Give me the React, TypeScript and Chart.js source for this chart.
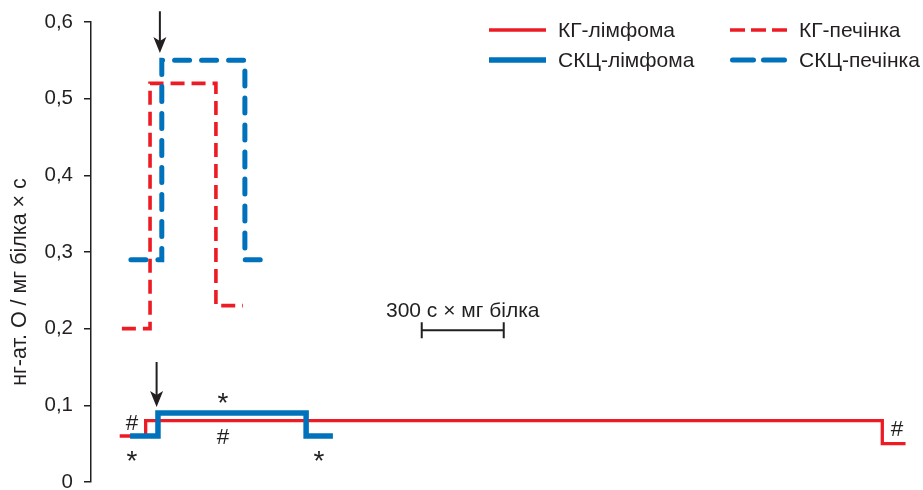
import React, { useEffect, useRef } from 'react';
import { Chart, registerables } from 'chart.js';

Chart.register(...registerables);

// ---- data (time in seconds, values in нг-ат. О / мг білка × с) ----
const seriesNames = ['КГ-лімфома', 'КГ-печінка', 'СКЦ-лімфома', 'СКЦ-печінка'];
const kgLymphomaTime = [105, 200, 2895, 2980];
const kgLymphomaValues = [0.06, 0.08, 0.05, 0.05];
const kgLiverTime = [113, 216, 457, 556];
const kgLiverValues = [0.2, 0.52, 0.23, 0.23];
const skcLymphomaTime = [143, 245, 787, 885];
const skcLymphomaValues = [0.06, 0.09, 0.06, 0.06];
const skcLiverTime = [146, 259, 563, 622];
const skcLiverValues = [0.29, 0.55, 0.29, 0.29];

const yTickValues = [0, 0.1, 0.2, 0.3, 0.4, 0.5, 0.6];
const yTitle = 'нг-ат. О / мг білка × с';

// significance marks (time, value)
const markTexts = ['#', '*', '*', '#', '*', '#'];
const markTimes = [150, 150, 483, 483, 834, 2949];
const markValues = [0.078, 0.034, 0.110, 0.059, 0.034, 0.07];

// arrows (time, from value, to value)
const arrowTimes = [252, 240];
const arrowFrom = [0.614, 0.1565];
const arrowTo = [0.5595, 0.0978];

// scale bar
const scaleBarStart = 1210;
const scaleBarLength = 300;
const scaleBarValue = 0.198;
const scaleBarLabel = '300 с × мг білка';

const RED = '#ED1C24';
const BLUE = '#0072BC';
const INK = '#231F20';
const FONT = '"Liberation Sans", Arial, Helvetica, sans-serif';

const toPoints = (t: number[], v: number[]) => t.map((x, i) => ({ x, y: v[i] }));

const styles = [
  { color: RED, dash: [] as number[], width: 3.3, cap: 'butt' },
  { color: RED, dash: [14, 7], width: 3.6, cap: 'butt' },
  { color: BLUE, dash: [] as number[], width: 5.5, cap: 'butt' },
  { color: BLUE, dash: [15, 12], width: 5, cap: 'round' },
];

const legendDash = [[], [15, 6], [], [21, 10]];
const legendCols = [489, 730];
const legendRows = [30, 60];

const extrasPlugin = {
  id: 'extras',
  afterDraw(chart: any) {
    const ctx: CanvasRenderingContext2D = chart.ctx;
    const xs = chart.scales.x;
    const ys = chart.scales.y;
    ctx.save();
    ctx.fillStyle = INK;
    ctx.strokeStyle = INK;

    // marks
    markTexts.forEach((t, i) => {
      const size = t === '*' ? 28 : 22.5;
      ctx.font = `${size}px ${FONT}`;
      ctx.textAlign = 'center';
      ctx.textBaseline = 'alphabetic';
      const m = ctx.measureText(t);
      const px = xs.getPixelForValue(markTimes[i]);
      const py = ys.getPixelForValue(markValues[i]);
      const off = (m.actualBoundingBoxAscent - m.actualBoundingBoxDescent) / 2;
      ctx.fillText(t, px, py + off);
    });

    // arrows
    arrowTimes.forEach((t, i) => {
      const x = xs.getPixelForValue(t);
      const y0 = ys.getPixelForValue(arrowFrom[i]);
      const y1 = ys.getPixelForValue(arrowTo[i]);
      ctx.lineWidth = 2;
      ctx.setLineDash([]);
      ctx.beginPath();
      ctx.moveTo(x, y0);
      ctx.lineTo(x, y1 - 10);
      ctx.stroke();
      ctx.beginPath();
      ctx.moveTo(x, y1);
      ctx.lineTo(x - 6.5, y1 - 16);
      ctx.lineTo(x, y1 - 12);
      ctx.lineTo(x + 6.5, y1 - 16);
      ctx.closePath();
      ctx.fill();
    });

    // scale bar
    const bx0 = xs.getPixelForValue(scaleBarStart);
    const bx1 = xs.getPixelForValue(scaleBarStart + scaleBarLength);
    const by = ys.getPixelForValue(scaleBarValue);
    ctx.lineWidth = 2;
    ctx.beginPath();
    ctx.moveTo(bx0, by);
    ctx.lineTo(bx1, by);
    ctx.moveTo(bx0, by - 8);
    ctx.lineTo(bx0, by + 8);
    ctx.moveTo(bx1, by - 8);
    ctx.lineTo(bx1, by + 8);
    ctx.stroke();
    ctx.font = `21px ${FONT}`;
    ctx.textAlign = 'center';
    ctx.textBaseline = 'alphabetic';
    ctx.fillText(scaleBarLabel, (bx0 + bx1) / 2, by - 13);

    // y title
    ctx.save();
    ctx.translate(26, 282);
    ctx.rotate(-Math.PI / 2);
    ctx.font = `21.5px ${FONT}`;
    ctx.textAlign = 'center';
    ctx.textBaseline = 'alphabetic';
    ctx.fillText(yTitle, 0, 0);
    ctx.restore();

    // legend (2 columns x 2 rows)
    seriesNames.forEach((name, i) => {
      const col = i % 2;
      const row = Math.floor(i / 2);
      const st = styles[i];
      const lx = legendCols[col];
      const ly = legendRows[row];
      ctx.strokeStyle = st.color;
      ctx.lineWidth = st.width;
      ctx.lineCap = st.cap as CanvasLineCap;
      ctx.setLineDash(legendDash[i]);
      ctx.beginPath();
      const capPad = st.cap === 'round' ? st.width / 2 : 0;
      ctx.moveTo(lx + capPad, ly);
      ctx.lineTo(lx + 57 - capPad, ly);
      ctx.stroke();
      ctx.setLineDash([]);
      ctx.lineCap = 'butt';
      ctx.fillStyle = INK;
      ctx.font = `21px ${FONT}`;
      ctx.textAlign = 'left';
      ctx.textBaseline = 'middle';
      ctx.fillText(name, lx + 69, ly + 1);
    });

    ctx.restore();
  },
};

export default function App() {
  const canvasRef = useRef<HTMLCanvasElement | null>(null);

  useEffect(() => {
    const canvas = canvasRef.current;
    if (!canvas) return;
    const seriesData = [
      toPoints(kgLymphomaTime, kgLymphomaValues),
      toPoints(kgLiverTime, kgLiverValues),
      toPoints(skcLymphomaTime, skcLymphomaValues),
      toPoints(skcLiverTime, skcLiverValues),
    ];
    // draw order: blue on top of red
    const drawOrder = [2, 3, 0, 1];
    const chart = new Chart(canvas, {
      type: 'line',
      data: {
        datasets: drawOrder.map((i) => ({
          label: seriesNames[i],
          data: seriesData[i],
          stepped: true,
          borderColor: styles[i].color,
          backgroundColor: styles[i].color,
          borderWidth: styles[i].width,
          borderDash: styles[i].dash,
          borderCapStyle: styles[i].cap as any,
          borderJoinStyle: 'miter',
          pointRadius: 0,
          fill: false,
        })),
      },
      options: {
        responsive: false,
        animation: false,
        layout: { padding: { top: 22, right: 12, bottom: 8, left: 0 } },
        plugins: { legend: { display: false }, tooltip: { enabled: false } },
        scales: {
          x: { type: 'linear', display: false, min: 0, max: 3000 },
          y: {
            type: 'linear',
            min: 0,
            max: 0.6,
            afterFit: (s: any) => {
              s.width = 91;
              s.paddingTop = 0;
              s.paddingBottom = 0;
            },
            afterBuildTicks: (s: any) => {
              s.ticks = yTickValues.map((v) => ({ value: v }));
            },
            border: { display: true, color: INK, width: 1.5 },
            grid: {
              drawOnChartArea: false,
              drawTicks: true,
              tickLength: 7,
              color: INK,
              lineWidth: 1.5,
            },
            ticks: {
              padding: 11,
              color: INK,
              font: { family: FONT, size: 20.5, lineHeight: 0.8 },
              callback: (v: any) => (Number(v) === 0 ? '0' : Number(v).toFixed(1).replace('.', ',')),
            },
            title: { display: false },
          },
        },
      },
      plugins: [extrasPlugin],
    });
    return () => chart.destroy();
  }, []);

  return (
    <div style={{ position: 'absolute', left: 0, top: 0, width: 923, height: 490, background: '#fff' }}>
      <canvas ref={canvasRef} width={923} height={490} style={{ display: 'block', width: 923, height: 490 }} />
    </div>
  );
}
